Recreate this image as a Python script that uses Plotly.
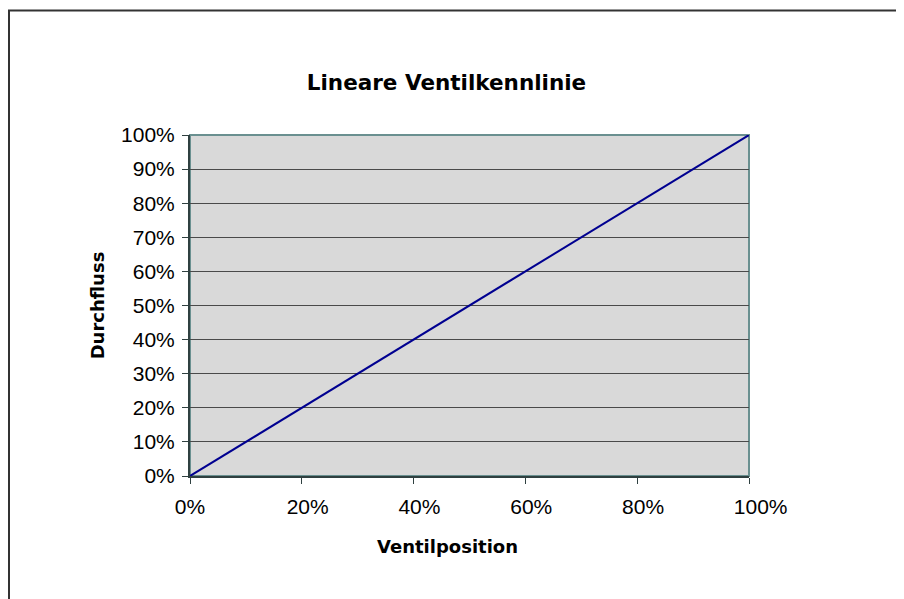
import plotly.graph_objects as go

# Data
valve_position = [0, 100]   # Ventilposition in %
flow = [0, 100]             # Durchfluss in %
y_tick_values = [0, 10, 20, 30, 40, 50, 60, 70, 80, 90, 100]
y_tick_labels = ["0%", "10%", "20%", "30%", "40%", "50%", "60%", "70%", "80%", "90%", "100%"]
x_tick_values = [0, 20, 40, 60, 80, 100]
x_tick_labels = ["0%", "20%", "40%", "60%", "80%", "100%"]

title_text = "Lineare Ventilkennlinie"
x_title = "Ventilposition"
y_title = "Durchfluss"

FONT = "Liberation Sans, Arial, sans-serif"
BOLD_FONT = "DejaVu Sans, sans-serif"

# page has an 8px body margin; figure coords = screen - 8
L, T = 182, 127
PW, PH = 559, 341
W, H = 904, 599

# x labels in the reference are left-aligned just before each tick:
# pad with non-breaking spaces so the centred label shifts accordingly
NBSP = "\u00a0"
def pad(lbl):
    n = {2: 0, 3: 2, 4: 4}[len(lbl)]
    return NBSP * n + lbl

fig = go.Figure()
fig.add_trace(go.Scatter(
    x=valve_position, y=flow, mode="lines",
    line=dict(color="#000090", width=2),
    showlegend=False, hoverinfo="skip",
))

axis_dark = "#2f4040"

fig.update_layout(
    width=W, height=H,
    paper_bgcolor="white",
    plot_bgcolor="#d9d9d9",
    margin=dict(l=L, r=W - L - PW, t=T, b=H - T - PH),
    font=dict(family=FONT, color="black", size=21),
    title=dict(text="<b>" + title_text + "</b>", x=438.5 / W, xanchor="center",
               y=1 - 74 / H, yanchor="middle",
               font=dict(family=BOLD_FONT, size=21.5, color="black")),
    shapes=[
        # outer chart border (cut off on the right/bottom)
        dict(type="rect", xref="paper", yref="paper",
             x0=(1 - L) / PW, x1=1.6, y0=-0.6, y1=1 + (T - 2.5) / PH,
             line=dict(color="#333333", width=2), layer="below"),
        # plot area border top/right
        dict(type="rect", xref="paper", yref="paper", x0=0, x1=1, y0=0, y1=1,
             line=dict(color="#6a9090", width=2), layer="below"),
    ],
    annotations=[
        dict(text="<b>" + x_title + "</b>", xref="paper", yref="paper",
             x=(439 - L) / PW, y=-(538 - T - PH) / PH,
             xanchor="center", yanchor="middle", showarrow=False,
             font=dict(family=BOLD_FONT, size=18, color="black")),
    ],
)

fig.update_xaxes(
    range=[0, 100], tickmode="array", tickvals=x_tick_values,
    ticktext=[pad(t) for t in x_tick_labels],
    showgrid=False, zeroline=False,
    showline=True, linecolor=axis_dark, linewidth=2,
    ticks="outside", ticklen=6, tickcolor=axis_dark, tickwidth=1,
    ticklabelstandoff=5,
    tickfont=dict(size=21),
)
fig.update_yaxes(
    range=[0, 100], tickmode="array", tickvals=y_tick_values, ticktext=y_tick_labels,
    showgrid=True, gridcolor="#4a4a4a", gridwidth=1, zeroline=False,
    showline=True, linecolor=axis_dark, linewidth=2,
    ticks="outside", ticklen=6, tickcolor=axis_dark, tickwidth=1,
    ticklabelstandoff=3,
    title=dict(text="<b>" + y_title + "</b>", font=dict(family=BOLD_FONT, size=18), standoff=12),
    tickfont=dict(size=21),
)

fig.write_html("out.html")
